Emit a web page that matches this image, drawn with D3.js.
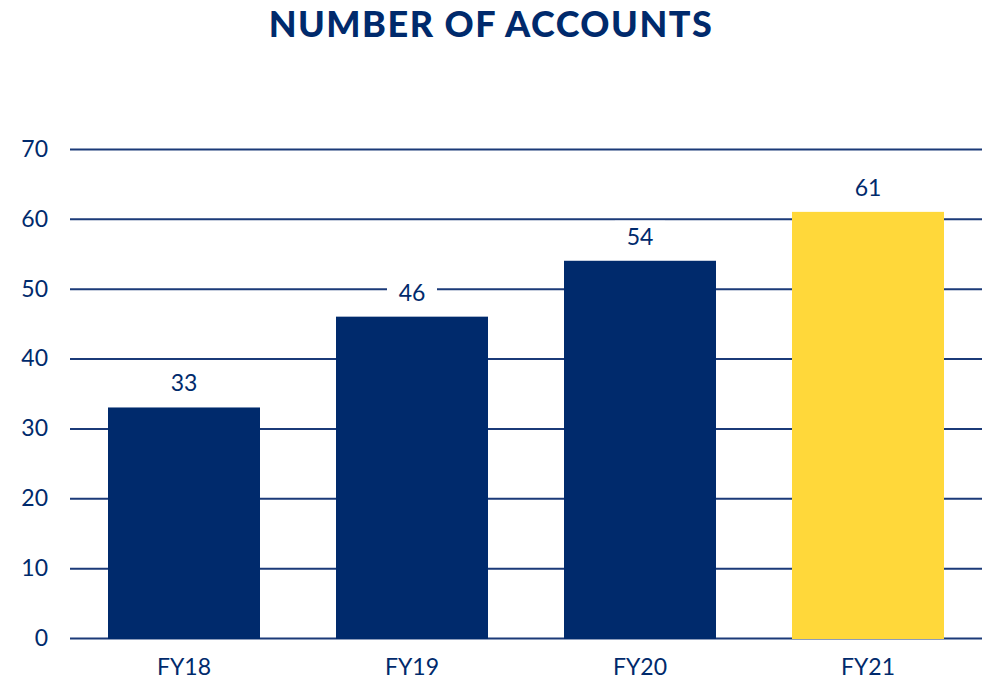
<!DOCTYPE html>
<html>
<head>
<meta charset="utf-8">
<script src="https://cdn.jsdelivr.net/npm/d3@7"></script>
<style>
  body { margin: 0; background: #fff; }
  svg { display: block; font-family: Lato, "Noto Sans", sans-serif; }
</style>
</head>
<body>
<div id="chart"></div>
<script>
let categories = ["FY18", "FY19", "FY20", "FY21"];
let values = [33, 46, 54, 61];
let barColors = ["#002a6c", "#002a6c", "#002a6c", "#ffd83a"];
let yTicks = [0, 10, 20, 30, 40, 50, 60, 70];

let dim = { width: 989, height: 682 };
let margin = { top: 149, right: 7, bottom: 44, left: 70 };
let navy = "#002a6c";

let svg = d3.select("#chart").append("svg")
    .attr("width", dim.width)
    .attr("height", dim.height);

svg.append("text")
    .attr("x", 491)
    .attr("y", 37)
    .attr("text-anchor", "middle")
    .attr("font-size", 36)
    .attr("font-weight", 900)
    .attr("letter-spacing", 1.5)
    .attr("fill", navy)
    .text("NUMBER OF ACCOUNTS");

let x = d3.scaleBand()
    .domain(categories)
    .range([margin.left, dim.width - margin.right])
    .paddingInner(1 / 3)
    .paddingOuter(1 / 6);

let y = d3.scaleLinear()
    .domain([0, 70])
    .range([dim.height - margin.bottom, margin.top]);

// gridlines + tick labels
let yAxis = svg.append("g")
    .attr("transform", `translate(${margin.left},0)`)
    .call(d3.axisLeft(y).tickValues(yTicks)
        .tickSize(-(dim.width - margin.left - margin.right))
        .tickPadding(22));
yAxis.select(".domain").remove();
yAxis.selectAll("line").attr("stroke", "#1b3a78").attr("stroke-width", 2);
yAxis.selectAll("text")
    .attr("fill", navy)
    .attr("font-size", 23)
    .attr("font-family", "Lato, sans-serif");

// bars
svg.append("g").selectAll("rect")
    .data(values)
    .join("rect")
    .attr("x", (d, i) => x(categories[i]))
    .attr("y", d => y(d))
    .attr("width", x.bandwidth())
    .attr("height", d => y(0) - y(d) + 1)
    .attr("fill", (d, i) => barColors[i]);

// value labels with white backing
let lbl = svg.append("g").selectAll("g")
    .data(values)
    .join("g")
    .attr("transform", (d, i) => `translate(${x(categories[i]) + x.bandwidth() / 2},${y(d) - 16})`);
lbl.append("rect")
    .attr("x", -25)
    .attr("y", -24)
    .attr("width", 50)
    .attr("height", 30)
    .attr("fill", "#fff");
lbl.append("text")
    .attr("text-anchor", "middle")
    .attr("font-size", 23)
    .attr("fill", navy)
    .text(d => d);

// category labels
let xAxis = svg.append("g")
    .attr("transform", `translate(0,${dim.height - margin.bottom})`)
    .call(d3.axisBottom(x).tickSize(0).tickPadding(21));
xAxis.select(".domain").remove();
xAxis.selectAll("text")
    .attr("fill", navy)
    .attr("font-size", 23)
    .attr("font-family", "Lato, sans-serif");
</script>
</body>
</html>
